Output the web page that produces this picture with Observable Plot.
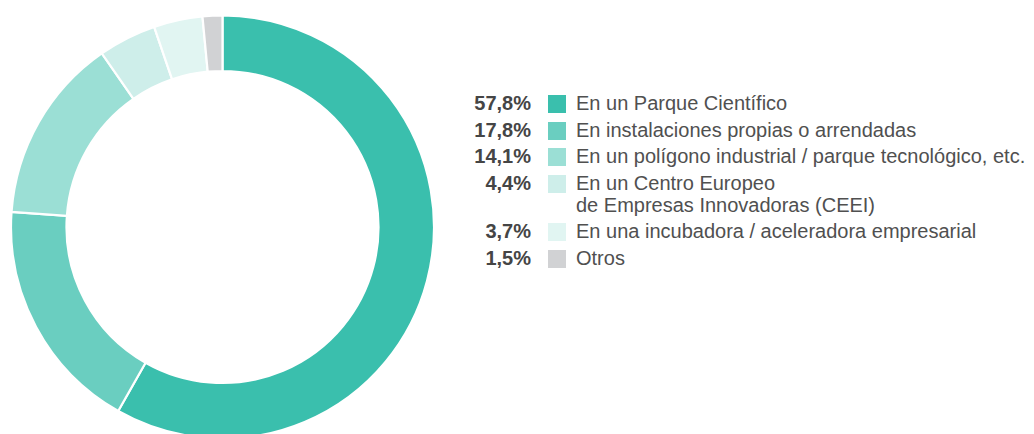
<!DOCTYPE html>
<html>
<head>
<meta charset="utf-8">
<script src="https://cdn.jsdelivr.net/npm/d3@7"></script>
<script src="https://cdn.jsdelivr.net/npm/@observablehq/plot@0.6"></script>
<style>
  html, body { margin: 0; padding: 0; background: #fff; }
  #wrap { position: relative; width: 1034px; height: 434px; overflow: hidden; }
  #legend {
    position: absolute; left: 445px; top: 92px;
    display: grid; grid-template-columns: 103px 18px auto;
    column-gap: 0; row-gap: 4.5px;
    font-family: "Liberation Sans", Arial, sans-serif; font-size: 20px; line-height: 22px;
  }
  .pct { text-align: right; font-weight: bold; color: #454545; padding-right: 17px; box-sizing: border-box; }
  .sw { width: 18px; height: 18px; margin-top: 3px; }
  .lab { color: #505050; padding-left: 10px; white-space: pre; }
</style>
</head>
<body>
<div id="wrap"><div id="legend"></div></div>
<script>
const labels = [
  "En un Parque Científico",
  "En instalaciones propias o arrendadas",
  "En un polígono industrial / parque tecnológico, etc.",
  "En un Centro Europeo\nde Empresas Innovadoras (CEEI)",
  "En una incubadora / aceleradora empresarial",
  "Otros"
];
const values = [57.8, 17.8, 14.1, 4.4, 3.7, 1.5];
const pctLabels = ["57,8%", "17,8%", "14,1%", "4,4%", "3,7%", "1,5%"];
const colors = ["#3abfad", "#6acec0", "#9bdfd5", "#ceeeea", "#e1f5f2", "#d1d2d4"];

const data = labels.map((label, i) => ({label, value: values[i]}));

const cx = 222.5, cy = 227, rOuter = 211.5, rInner = 156;

const chart = Plot.plot({
  width: 1034,
  height: 434,
  margin: 0,
  x: {domain: [0, d3.sum(values)], range: [0, 2 * Math.PI], axis: null},
  y: {axis: null},
  color: {domain: labels, range: colors},
  marks: [
    Plot.barX(data, Plot.stackX({
      x: "value",
      fill: "label",
      order: null,
      render: (index, scales, channels) => {
        const g = d3.create("svg:g").attr("transform", `translate(${cx},${cy})`);
        const arc = d3.arc().innerRadius(rInner).outerRadius(rOuter);
        for (const i of index) {
          g.append("path")
            .attr("d", arc({startAngle: channels.x1[i], endAngle: channels.x2[i]}))
            .attr("fill", channels.fill[i])
            .attr("stroke", "#fff")
            .attr("stroke-width", 2.2);
        }
        return g.node();
      }
    }))
  ]
});
document.getElementById("wrap").prepend(chart);

const legend = d3.select("#legend");
labels.forEach((label, i) => {
  legend.append("div").attr("class", "pct").text(pctLabels[i]);
  legend.append("div").attr("class", "sw").style("background", colors[i]);
  legend.append("div").attr("class", "lab").text(label);
});
</script>
</body>
</html>
